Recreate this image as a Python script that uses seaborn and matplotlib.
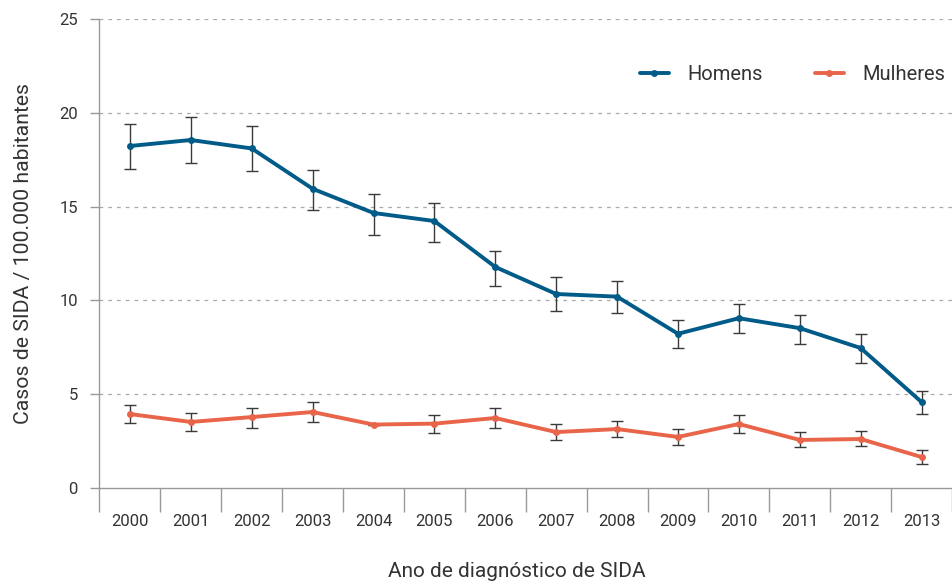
import numpy as np
import pandas as pd
import matplotlib
matplotlib.use("Agg")
import matplotlib.pyplot as plt
import seaborn as sns
from matplotlib.ticker import FixedLocator

# --- Data ---
years = [2000, 2001, 2002, 2003, 2004, 2005, 2006, 2007, 2008, 2009, 2010, 2011, 2012, 2013]
homens = [18.23, 18.55, 18.10, 15.95, 14.66, 14.23, 11.78, 10.34, 10.20, 8.22, 9.05, 8.52, 7.46, 4.58]
homens_lo = [17.02, 17.32, 16.90, 14.82, 13.49, 13.11, 10.77, 9.43, 9.33, 7.46, 8.26, 7.68, 6.66, 3.94]
homens_hi = [19.42, 19.78, 19.30, 16.97, 15.69, 15.19, 12.63, 11.25, 11.05, 8.96, 9.81, 9.22, 8.21, 5.17]
mulheres = [3.94, 3.52, 3.78, 4.05, 3.38, 3.43, 3.73, 2.98, 3.14, 2.72, 3.41, 2.56, 2.61, 1.65]
mulheres_lo = [3.46, 3.04, 3.22, 3.52, 3.38, 2.95, 3.20, 2.56, 2.71, 2.29, 2.93, 2.18, 2.22, 1.30]
mulheres_hi = [4.42, 4.00, 4.28, 4.58, 3.38, 3.89, 4.26, 3.40, 3.57, 3.14, 3.89, 2.98, 3.03, 2.00]

BLUE = '#005b88'
ORANGE = '#e8654a'
TEXT = '#333333'
AXIS = '#999999'

df = pd.DataFrame({
    'ano': years * 2,
    'casos': homens + mulheres,
    'lo': homens_lo + mulheres_lo,
    'hi': homens_hi + mulheres_hi,
    'sexo': ['Homens'] * len(years) + ['Mulheres'] * len(years),
})

sns.set_style('white')
plt.rcParams['font.family'] = ['Roboto', 'DejaVu Sans']

fig = plt.figure(figsize=(9.52, 5.83), dpi=100)
ax = fig.add_axes([0.1045, 0.163, 0.8955, 0.8044])

# error bars first so the lines sit on top
for sexo in ['Homens', 'Mulheres']:
    d = df[df['sexo'] == sexo]
    yerr = [d['casos'] - d['lo'], d['hi'] - d['casos']]
    ax.errorbar(d['ano'], d['casos'], yerr=yerr, fmt='none', ecolor='#3a3a3a',
                elinewidth=1.0, capsize=4.5, capthick=1.0, zorder=2)

sns.lineplot(data=df, x='ano', y='casos', hue='sexo', palette=[BLUE, ORANGE],
             marker='o', markersize=5, markeredgewidth=0, linewidth=2.8,
             ax=ax, zorder=3)

ax.set_xlim(1999.5, 2013.5)
ax.set_ylim(0, 25)
ax.set_yticks([0, 5, 10, 15, 20, 25])
ax.set_xticks(years)
ax.set_xticklabels([str(y) for y in years])
ax.xaxis.set_minor_locator(FixedLocator(np.arange(1999.5, 2014, 1.0)))

# dashed horizontal grid
for v in [5, 10, 15, 20, 25]:
    ax.axhline(v, color='#aaaaaa', linestyle=(0, (3, 4)), linewidth=0.9, zorder=1)

for s in ['top', 'right']:
    ax.spines[s].set_visible(False)
for s in ['left', 'bottom']:
    ax.spines[s].set_color(AXIS)
    ax.spines[s].set_linewidth(1.0)

ax.tick_params(axis='y', which='major', left=True, length=6.5, width=1.0, color=AXIS,
               labelsize=12, labelcolor=TEXT, pad=9)
ax.tick_params(axis='x', which='major', bottom=True, length=0, labelsize=12,
               labelcolor=TEXT, pad=19)
ax.tick_params(axis='x', which='minor', bottom=True, length=17, width=1.0, color=AXIS)

ax.set_xlabel('Ano de diagnóstico de SIDA', fontsize=15, color=TEXT)
ax.xaxis.set_label_coords(0.49, -0.158)
ax.set_ylabel('Casos de SIDA / 100.000 habitantes', fontsize=15.3, color=TEXT, labelpad=19)

leg = ax.legend(loc='upper right', bbox_to_anchor=(1.013, 0.94), ncol=2, frameon=False,
                fontsize=14.5, handlelength=1.45, handletextpad=0.9, columnspacing=2.6)
for t in leg.get_texts():
    t.set_color(TEXT)

fig.savefig('out.png', dpi=100)
